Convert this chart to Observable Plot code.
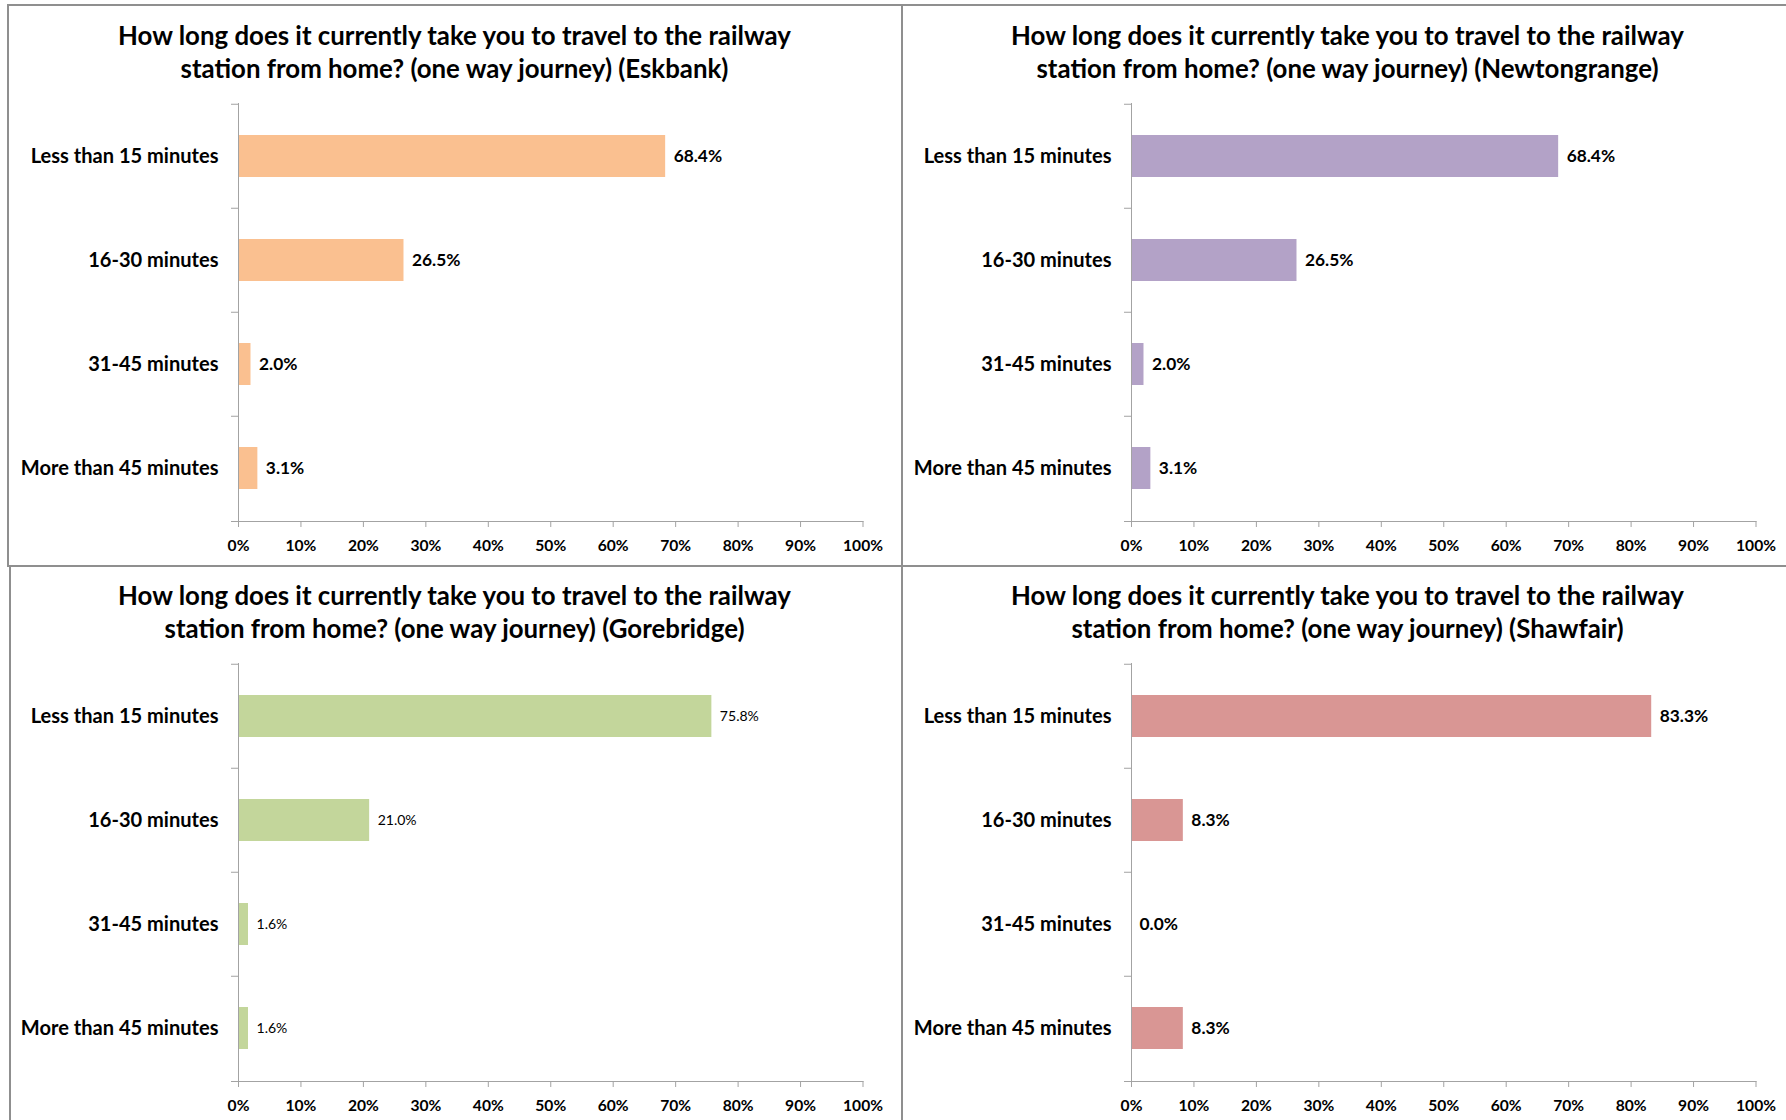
<!DOCTYPE html>
<html><head><meta charset="utf-8">
<script src="https://cdn.jsdelivr.net/npm/d3@7"></script>
<script src="https://cdn.jsdelivr.net/npm/@observablehq/plot@0.6"></script>
<style>
html,body{margin:0;padding:0;background:#fff;}
#page{position:relative;width:1786px;height:1120px;overflow:hidden;font-family:Lato, sans-serif;}
.border{position:absolute;border:2px solid #8f8f8f;box-sizing:border-box;}
.title{position:absolute;text-align:center;font-weight:700;color:#000;line-height:33px;white-space:nowrap;font-family:Lato, sans-serif;}
.chart{position:absolute;}
</style></head><body><div id="page"></div>
<script>
// ---- data ----
const categories = ["Less than 15 minutes", "16-30 minutes", "31-45 minutes", "More than 45 minutes"];
const stations = ["Eskbank", "Newtongrange", "Gorebridge", "Shawfair"];
const eskbankValues = [68.4, 26.5, 2.0, 3.1];
const newtongrangeValues = [68.4, 26.5, 2.0, 3.1];
const gorebridgeValues = [75.8, 21.0, 1.6, 1.6];
const shawfairValues = [83.3, 8.3, 0.0, 8.3];
const xTicks = [0, 10, 20, 30, 40, 50, 60, 70, 80, 90, 100];
const titleLine1 = "How long does it currently take you to travel to the railway";
const titleLine2 = "station from home? (one way journey)";

const seriesValues = [eskbankValues, newtongrangeValues, gorebridgeValues, shawfairValues];
const colors = ["#FAC090", "#B3A2C7", "#C3D69B", "#D99694"];
const labelBold = [true, true, false, true];

// ---- font sizing (Lato substitutes for Calibri) ----
const ctx = document.createElement("canvas").getContext("2d");
function fit(text, weight, target) {
  ctx.font = `${weight} 100px Lato`;
  return 100 * target / ctx.measureText(text).width;
}
const titleSize = fit(titleLine1, 700, 675);
const ylabSize = fit("Less than 15 minutes", 700, 188);
const valSize = fit("68.4%", 700, 48.5);
const valSizeLight = fit("75.8%", 400, 39);
const tickSize = fit("100%", 700, 40);

const gray = "#a3a3a3";
const page = document.getElementById("page");

// panel borders
const borders = [
  {l: 7, t: 4, w: 896, h: 563},
  {l: 901, t: 4, w: 900, h: 563},
  {l: 9, t: 565, w: 894, h: 600},
  {l: 901, t: 565, w: 900, h: 600}
];
borders.forEach(b => {
  const d = document.createElement("div");
  d.className = "border";
  Object.assign(d.style, {left: b.l + "px", top: b.t + "px", width: b.w + "px", height: b.h + "px"});
  page.appendChild(d);
});

const W = 893, H = 481, mT = 18, mB = 45, mL = 230, mR = 38.5;
const pIn = 0.6, pOut = 0.3;
const step = (H - mT - mB) / (categories.length - pIn + 2 * pOut);

stations.forEach((station, k) => {
  const ox = (k % 2) * 893, oy = Math.floor(k / 2) * 560;
  const data = categories.map((c, i) => ({category: c, value: seriesValues[k][i]}));

  const t = document.createElement("div");
  t.className = "title";
  Object.assign(t.style, {left: (ox + 8) + "px", top: (oy + 19) + "px", width: W + "px", fontSize: titleSize + "px"});
  t.innerHTML = `${titleLine1}<br>${titleLine2} (${station})`;
  page.appendChild(t);

  const chart = Plot.plot({
    width: W, height: H,
    marginTop: mT, marginBottom: mB, marginLeft: mL, marginRight: mR,
    style: {fontFamily: "Lato, sans-serif", background: "transparent", overflow: "visible"},
    x: {domain: d3.extent(xTicks)},
    y: {domain: categories, paddingInner: pIn, paddingOuter: pOut},
    marks: [
      Plot.barX(data, {x: "value", y: "category", fill: colors[k]}),
      Plot.ruleX([0], {stroke: gray}),
      Plot.ruleY(categories, {y: d => d, x1: 0, x2: 0, insetLeft: -7, dy: -step / 2, stroke: gray}),
      Plot.frame({anchor: "bottom", stroke: gray, insetLeft: -7}),
      Plot.axisX({ticks: xTicks, tickSize: 6, tickPadding: 12, tickFormat: d => d + "%", stroke: gray, fill: "#000",
        fontSize: tickSize, fontWeight: 700, label: null}),
      Plot.axisY({tickSize: 0, tickPadding: 20, fill: "#000", fontSize: ylabSize, fontWeight: 700, label: null}),
      Plot.text(data, {x: "value", y: "category", text: d => d.value.toFixed(1) + "%", dx: 8, textAnchor: "start",
        fill: "#000", fontSize: labelBold[k] ? valSize : valSizeLight, fontWeight: labelBold[k] ? 700 : 400})
    ]
  });
  chart.classList.add("chart");
  chart.style.left = (ox + 8) + "px";
  chart.style.top = (oy + 85) + "px";
  page.appendChild(chart);
});
</script>
</body></html>
